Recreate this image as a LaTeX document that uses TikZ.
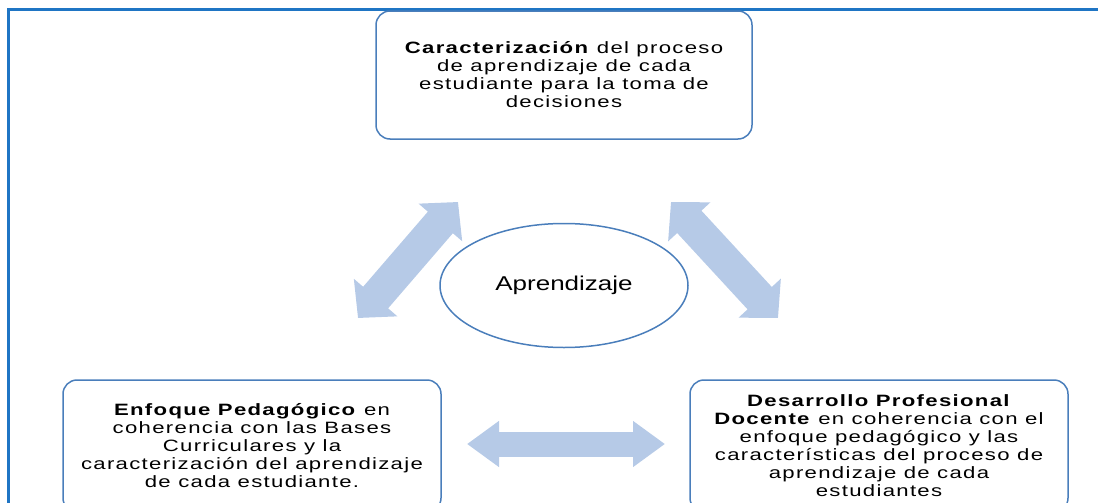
\documentclass[tikz,border=0pt]{standalone}
\usepackage{fontspec}
\setmainfont{Liberation Sans}[FakeStretch=1.3]
\newfontfamily\boxfont{Liberation Sans}[FakeStretch=1.35, LetterSpace=8]
\usepackage{tikz}
\usetikzlibrary{shapes.geometric, arrows.meta, positioning}
\definecolor{framblue}{RGB}{31,117,196}
\definecolor{boxblue}{RGB}{74,126,187}
\definecolor{arrowblue}{RGB}{182,202,231}

\begin{document}
\begin{tikzpicture}[
  x=0.5pt, y=-0.5pt,
  box/.style={rectangle, draw=boxblue, line width=0.75pt, rounded corners=7pt, minimum width=188pt, align=center, font=\boxfont\fontsize{8.2}{9}\selectfont},
  dblarrow/.style={draw=arrowblue, line width=#1}
]
  \useasboundingbox (0,0) rectangle (1098,503);
  \clip (0,0) rectangle (1098,503);
  \draw[framblue, line width=1.5pt] (8,9) rectangle (1120,530);
  \node[box, minimum height=64pt] (carac) at (564,75) {\textbf{Caracterización} del proceso\\de aprendizaje de cada\\estudiante para la toma de\\decisiones};
  \node[ellipse, draw=boxblue, line width=0.75pt, minimum width=124pt, minimum height=62pt, inner sep=0pt, below=41.5pt of carac, font=\fontsize{10}{12}\selectfont] (aprend) {Aprendizaje};
  \node[box, minimum width=189pt, minimum height=66pt] (enfoque) at (252,446) {\textbf{Enfoque Pedagógico} en\\coherencia con las Bases\\Curriculares y la\\caracterización del aprendizaje\\de cada estudiante.};
  \node[box, minimum width=189pt, minimum height=66pt] (desarrollo) at (879,446) {\textbf{Desarrollo Profesional}\\\textbf{Docente} en coherencia con el\\enfoque pedagógico y las\\características del proceso de\\aprendizaje de cada\\estudiantes};
  % block arrows between the boxes
  \coordinate (enf-up) at (358,318);
  \coordinate (car-left) at (458,202);
  \coordinate (car-right) at (671,202);
  \coordinate (des-up) at (778,318);
  \coordinate (enf-right) at (467,444);
  \coordinate (des-left) at (665,444);
  \draw[dblarrow=16.5pt, {Triangle[width=28pt,length=13.5pt]}-{Triangle[width=28pt,length=13.5pt]}] (enf-up) -- (car-left);
  \draw[dblarrow=16.5pt, {Triangle[width=28pt,length=13.5pt]}-{Triangle[width=28pt,length=13.5pt]}] (car-right) -- (des-up);
  \draw[dblarrow=12.5pt, {Triangle[width=22pt,length=16pt]}-{Triangle[width=22pt,length=16pt]}] (enf-right) -- (des-left);
\end{tikzpicture}
\end{document}
